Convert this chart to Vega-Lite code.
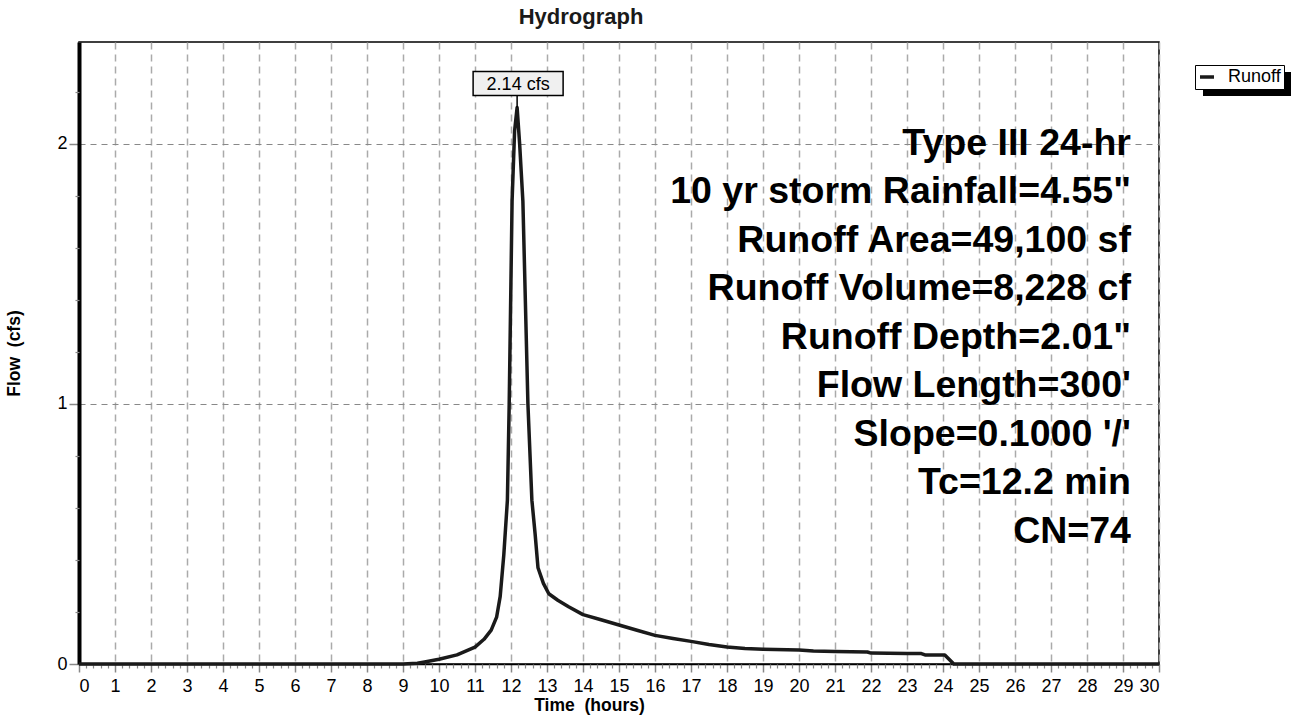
{
  "$schema": "https://vega.github.io/schema/vega-lite/v6.json",
  "width": 1080,
  "height": 622,
  "autosize": "none",
  "padding": {"left": 79, "top": 42, "right": 137, "bottom": 53},
  "background": "white",
  "config": {
    "font": "Liberation Sans",
    "view": {"stroke": "black", "strokeWidth": 1.5}
  },
  "title": {"text": "Hydrograph", "fontSize": 22, "fontWeight": "bold", "color": "#1a1a1a", "offset": 11, "dx": -38},
  "datasets": {
    "runoff": [
      {"time": 0, "flow": 0},
      {"time": 9.0, "flow": 0},
      {"time": 9.4, "flow": 0.003},
      {"time": 9.6, "flow": 0.008},
      {"time": 10.0, "flow": 0.018},
      {"time": 10.5, "flow": 0.035},
      {"time": 11.0, "flow": 0.065},
      {"time": 11.25, "flow": 0.095},
      {"time": 11.45, "flow": 0.13},
      {"time": 11.6, "flow": 0.18},
      {"time": 11.7, "flow": 0.26},
      {"time": 11.8, "flow": 0.42},
      {"time": 11.9, "flow": 0.63},
      {"time": 11.95, "flow": 1.0},
      {"time": 12.03, "flow": 1.78},
      {"time": 12.1, "flow": 2.05},
      {"time": 12.17, "flow": 2.14},
      {"time": 12.24, "flow": 2.0},
      {"time": 12.33, "flow": 1.78},
      {"time": 12.47, "flow": 1.0},
      {"time": 12.58, "flow": 0.63},
      {"time": 12.67, "flow": 0.5},
      {"time": 12.75, "flow": 0.37},
      {"time": 12.9, "flow": 0.31},
      {"time": 13.05, "flow": 0.27},
      {"time": 13.3, "flow": 0.245},
      {"time": 13.6, "flow": 0.22},
      {"time": 14.0, "flow": 0.19},
      {"time": 14.5, "flow": 0.17},
      {"time": 15.0, "flow": 0.15},
      {"time": 15.5, "flow": 0.13},
      {"time": 16.0, "flow": 0.11},
      {"time": 16.5, "flow": 0.098},
      {"time": 17.0, "flow": 0.087},
      {"time": 17.5, "flow": 0.075},
      {"time": 18.0, "flow": 0.065},
      {"time": 18.5, "flow": 0.06},
      {"time": 19.0, "flow": 0.057},
      {"time": 20.0, "flow": 0.054},
      {"time": 20.4, "flow": 0.05},
      {"time": 21.0, "flow": 0.048},
      {"time": 21.9, "flow": 0.046},
      {"time": 22.0, "flow": 0.042},
      {"time": 23.0, "flow": 0.04},
      {"time": 23.4, "flow": 0.04},
      {"time": 23.5, "flow": 0.035},
      {"time": 24.05, "flow": 0.035},
      {"time": 24.3, "flow": 0},
      {"time": 30, "flow": 0}
    ],
    "peak": [{"time": 12.17, "flow": 2.14, "label": "2.14 cfs"}],
    "notes": [{"lines": ["Type III 24-hr", "10 yr storm Rainfall=4.55\"", "Runoff Area=49,100 sf", "Runoff Volume=8,228 cf", "Runoff Depth=2.01\"", "Flow Length=300'", "Slope=0.1000 '/'", "Tc=12.2 min", "CN=74"]}]
  },
  "resolve": {"axis": {"x": "independent", "y": "independent"}},
  "layer": [
    {
      "data": {"name": "runoff"},
      "mark": {"type": "line", "strokeWidth": 3.5, "clip": false, "strokeJoin": "round"},
      "encoding": {
        "x": {
          "field": "time", "type": "quantitative",
          "scale": {"domain": [0, 30], "nice": false, "zero": false},
          "axis": {
            "orient": "bottom",
            "values": [0,1,2,3,4,5,6,7,8,9,10,11,12,13,14,15,16,17,18,19,20,21,22,23,24,25,26,27,28,29,30],
            "format": "d",
            "grid": true, "gridColor": "#aaaaaa", "gridDash": [7, 5], "gridWidth": 1.5,
            "tickColor": "#888888", "tickSize": 8, "tickWidth": 1.5,
            "domainColor": "black", "domainWidth": 1.5,
            "labelFontSize": 18, "labelColor": "black", "labelPadding": 5,
            "title": "Time\u00a0\u00a0(hours)", "titleFontSize": 17.5, "titleFontWeight": "bold", "titleColor": "black",
            "titlePadding": 1, "titleX": 510, "titleAlign": "center"
          }
        },
        "y": {
          "field": "flow", "type": "quantitative",
          "scale": {"domain": [0, 2.392], "nice": false},
          "axis": {
            "orient": "left",
            "values": [0, 1, 2],
            "grid": true, "gridColor": "#888888", "gridDash": [6, 5], "gridWidth": 1.2,
            "tickColor": "#888888", "tickSize": 10, "tickWidth": 1.5,
            "domainColor": "black", "domainWidth": 4,
            "labelFontSize": 18, "labelColor": "black", "labelPadding": 2,
            "title": "Flow\u00a0\u00a0(cfs)", "titleFontSize": 17.5, "titleFontWeight": "bold", "titleColor": "black",
            "titlePadding": 33
          }
        },
        "color": {
          "datum": "Runoff",
          "scale": {"range": ["#1a1a1a"]},
          "legend": {
            "orient": "none", "legendX": 1116, "legendY": 23, "title": null, "zindex": 2,
            "fillColor": "white", "strokeColor": "black", "padding": 3,
            "symbolType": "stroke", "symbolStrokeWidth": 3.5, "symbolSize": 196,
            "labelFontSize": 18, "labelColor": "black", "labelOffset": 12
          }
        }
      }
    },
    {
      "data": {"name": "peak"},
      "mark": {"type": "rule", "color": "black", "strokeWidth": 1.5},
      "encoding": {
        "x": {
          "field": "time", "type": "quantitative",
          "axis": {
            "orient": "bottom",
            "values": [0.2,0.4,0.6,0.8,1.2,1.4,1.6,1.8,2.2,2.4,2.6,2.8,3.2,3.4,3.6,3.8,4.2,4.4,4.6,4.8,5.2,5.4,5.6,5.8,6.2,6.4,6.6,6.8,7.2,7.4,7.6,7.8,8.2,8.4,8.6,8.8,9.2,9.4,9.6,9.8,10.2,10.4,10.6,10.8,11.2,11.4,11.6,11.8,12.2,12.4,12.6,12.8,13.2,13.4,13.6,13.8,14.2,14.4,14.6,14.8,15.2,15.4,15.6,15.8,16.2,16.4,16.6,16.8,17.2,17.4,17.6,17.8,18.2,18.4,18.6,18.8,19.2,19.4,19.6,19.8,20.2,20.4,20.6,20.8,21.2,21.4,21.6,21.8,22.2,22.4,22.6,22.8,23.2,23.4,23.6,23.8,24.2,24.4,24.6,24.8,25.2,25.4,25.6,25.8,26.2,26.4,26.6,26.8,27.2,27.4,27.6,27.8,28.2,28.4,28.6,28.8,29.2,29.4,29.6,29.8],
            "labels": false, "domain": false, "grid": false, "title": null,
            "tickColor": "#888888", "tickSize": 4, "tickWidth": 1.2
          }
        },
        "y": {
          "field": "flow", "type": "quantitative",
          "axis": {
            "orient": "left",
            "values": [0.2,0.4,0.6,0.8,1.2,1.4,1.6,1.8,2.2],
            "labels": false, "domain": false, "grid": false, "title": null,
            "tickColor": "#888888", "tickSize": 4, "tickWidth": 1.2
          }
        },
        "y2": {"datum": 2.19},
        "opacity": {
          "datum": "Runoff\u200b", "type": "nominal",
          "scale": {"range": [1]},
          "legend": {
            "orient": "none", "legendX": 1124, "legendY": -2, "title": null, "zindex": 1,
            "padding": 0, "labelExpr": "''", "labelOffset": 0,
            "symbolType": "M-1,-0.2727L1,-0.2727L1,0.2727L-1,0.2727Z", "symbolSize": 7744,
            "symbolFillColor": "black", "symbolStrokeColor": "black", "symbolStrokeWidth": 0, "symbolOpacity": 1
          }
        }
      }
    },
    {
      "data": {"name": "peak"},
      "mark": {
        "type": "point", "filled": true, "fill": "#f0f0f0", "stroke": "black", "strokeWidth": 1.5, "opacity": 1,
        "shape": "M-1,-0.2667L1,-0.2667L1,0.2667L-1,0.2667Z", "size": 8100, "yOffset": -24, "xOffset": 1
      },
      "encoding": {
        "x": {"field": "time", "type": "quantitative", "axis": null},
        "y": {"field": "flow", "type": "quantitative", "axis": null}
      }
    },
    {
      "data": {"name": "peak"},
      "mark": {"type": "text", "fontSize": 18, "color": "black", "baseline": "middle", "align": "center", "yOffset": -23, "xOffset": 1},
      "encoding": {
        "x": {"field": "time", "type": "quantitative", "axis": null},
        "y": {"field": "flow", "type": "quantitative", "axis": null},
        "text": {"field": "label", "type": "nominal"}
      }
    },
    {
      "data": {"name": "notes"},
      "mark": {"type": "text", "fontSize": 37.5, "fontWeight": "bold", "color": "black", "align": "right", "baseline": "alphabetic", "lineHeight": 48.5},
      "encoding": {
        "x": {"datum": 29.22, "type": "quantitative", "axis": null},
        "y": {"datum": 1.958, "type": "quantitative", "axis": null},
        "text": {"field": "lines", "type": "nominal"}
      }
    }
  ]
}
